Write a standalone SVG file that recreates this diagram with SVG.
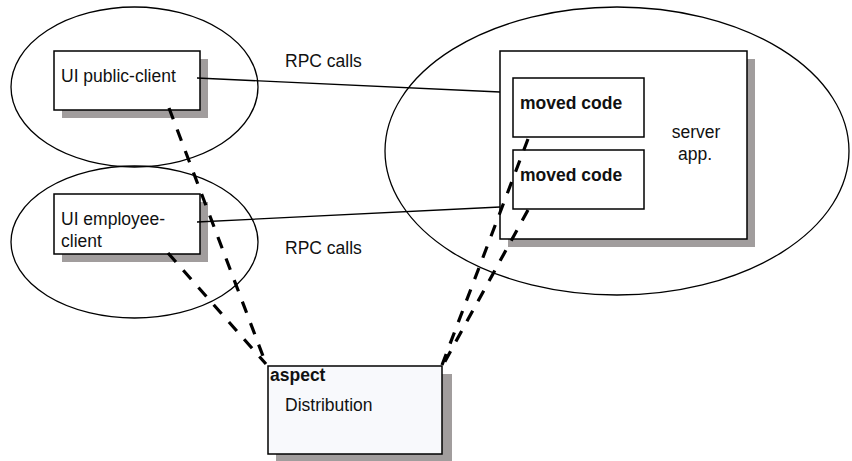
<svg xmlns="http://www.w3.org/2000/svg" width="852" height="461" viewBox="0 0 852 461">
<style>
.ell{fill:none;stroke:#000;stroke-width:1.3}
.box{fill:#fff;stroke:#000;stroke-width:1.5}
.shadow{fill:#a19d9d}
.t{font-family:"Liberation Sans",Arial,sans-serif;font-size:17.5px;fill:#111}
.b{font-weight:bold}
.thin{stroke:#000;stroke-width:1.3;fill:none}
.dash{stroke:#000;stroke-width:3.2;stroke-dasharray:12 11;fill:none}
</style>
<rect width="852" height="461" fill="#fff"/>
<g id="ellipses">
<ellipse class="ell" cx="134.5" cy="87" rx="123.5" ry="80"/>
<ellipse class="ell" cx="134.5" cy="242" rx="123.5" ry="76"/>
<ellipse class="ell" cx="617" cy="151" rx="232" ry="144"/>
</g>
<g id="ui-public-client">
<rect class="shadow" x="62" y="59" width="146" height="59"/>
<rect class="box" x="54" y="51" width="146" height="59"/>
<text class="t" x="61" y="82">UI public-client</text>
</g>
<g id="ui-employee-client">
<rect class="shadow" x="62" y="202" width="146" height="60"/>
<rect class="box" x="54" y="194" width="146" height="60"/>
<text class="t" x="61" y="225">UI employee-</text>
<text class="t" x="61" y="247">client</text>
</g>
<g id="server-app">
<rect class="shadow" x="508" y="59" width="247" height="188"/>
<rect class="box" x="500" y="51" width="247" height="188"/>
<text class="t" x="696" y="138" text-anchor="middle">server</text>
<text class="t" x="695" y="160" text-anchor="middle">app.</text>
</g>
<g id="moved-code-1">
<rect class="box" x="513" y="78" width="131" height="59"/>
<text class="t b" x="520" y="109">moved code</text>
</g>
<g id="moved-code-2">
<rect class="box" x="513" y="150" width="131" height="59"/>
<text class="t b" x="520" y="181">moved code</text>
</g>
<g id="aspect">
<rect class="shadow" x="276" y="374" width="176" height="90"/>
<rect x="268" y="366" width="174" height="88" fill="#f8f9fc" stroke="#000" stroke-width="1.5"/>
<text class="t b" x="270" y="381">aspect</text>
<text class="t" x="285" y="411">Distribution</text>
</g>
<g id="labels">
<text class="t" x="285" y="67">RPC calls</text>
<text class="t" x="285" y="254">RPC calls</text>
</g>
<g id="connectors">
<line class="thin" x1="197" y1="78" x2="500" y2="92"/>
<line class="thin" x1="197" y1="222" x2="500" y2="207"/>
<line class="dash" x1="169" y1="108" x2="266" y2="364"/>
<line class="dash" x1="168" y1="253" x2="266" y2="364"/>
<line class="dash" x1="528" y1="139" x2="442" y2="365"/>
<line class="dash" x1="528" y1="210" x2="443" y2="365"/>
</g>
</svg>
